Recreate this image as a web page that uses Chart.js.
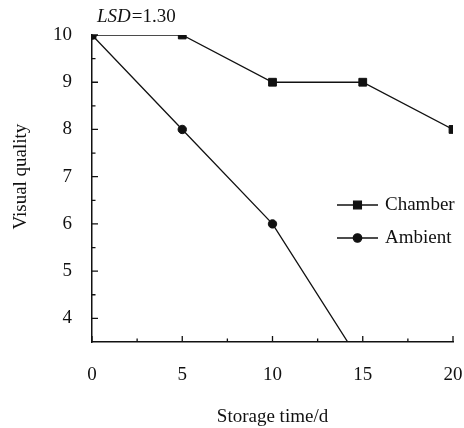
<!DOCTYPE html>
<html>
<head>
<meta charset="utf-8">
<script src="https://cdn.jsdelivr.net/npm/chart.js@4"></script>
<style>
  html, body { margin: 0; padding: 0; background: #fff; }
  #box { width: 464px; height: 428px; }
</style>
</head>
<body>
<div id="box"><canvas id="quality"></canvas></div>
<script>
// storage days and visual quality scores
const days = [0, 5, 10, 15, 20];
const chamber = [10, 10, 9, 9, 8];
const ambient = [10, 8, 6, 3, null];
const xMajor = [0, 5, 10, 15, 20];
const xMinor = [2.5, 7.5, 12.5, 17.5];
const yMajor = [4, 5, 6, 7, 8, 9, 10];
const yMinor = [4.5, 5.5, 6.5, 7.5, 8.5, 9.5];
const lsdLabel = ['LSD', '=1.30'];

const serif = '"Liberation Serif", "DejaVu Serif", serif';
const ink = '#111';
const fontSize = 19;

function toPoints(values) {
  return days.map((d, i) => ({ x: d, y: values[i] }));
}

// ticks that point into the plot, like the original figure
const innerTicks = {
  id: 'innerTicks',
  afterDraw(chart) {
    const ctx = chart.ctx;
    const xs = chart.scales.x, ys = chart.scales.y;
    const a = chart.chartArea;
    ctx.save();
    ctx.strokeStyle = ink;
    ctx.lineWidth = 1.3;
    ctx.beginPath();
    xMajor.forEach(v => { const p = xs.getPixelForValue(v); ctx.moveTo(p, a.bottom); ctx.lineTo(p, a.bottom - 6); });
    xMinor.forEach(v => { const p = xs.getPixelForValue(v); ctx.moveTo(p, a.bottom); ctx.lineTo(p, a.bottom - 3.5); });
    yMajor.forEach(v => { const p = ys.getPixelForValue(v); ctx.moveTo(a.left, p); ctx.lineTo(a.left + 6, p); });
    yMinor.forEach(v => { const p = ys.getPixelForValue(v); ctx.moveTo(a.left, p); ctx.lineTo(a.left + 3.5, p); });
    ctx.stroke();

    // LSD note above the plot
    ctx.fillStyle = ink;
    ctx.textBaseline = 'middle';
    ctx.textAlign = 'left';
    let tx = a.left + 5;
    const ty = a.top - 18;
    ctx.font = 'italic ' + fontSize + 'px ' + serif;
    ctx.fillText(lsdLabel[0], tx, ty);
    tx += ctx.measureText(lsdLabel[0]).width + 1;
    ctx.font = fontSize + 'px ' + serif;
    ctx.fillText(lsdLabel[1], tx, ty);

    // legend: line with marker, then the name
    chart.data.datasets.forEach((ds, i) => {
      const lx = a.left + 245, ly = a.top + 170 + i * 33;
      ctx.beginPath();
      ctx.lineWidth = ds.borderWidth;
      ctx.moveTo(lx, ly);
      ctx.lineTo(lx + 41, ly);
      ctx.stroke();
      Chart.helpers.drawPoint(ctx, {
        pointStyle: ds.pointStyle, radius: ds.pointRadius, rotation: 0, borderWidth: 1
      }, lx + 20.5, ly);
      ctx.fillStyle = ink;
      ctx.font = fontSize + 'px ' + serif;
      ctx.fillText(ds.label, lx + 48, ly);
    });
    ctx.restore();
  }
};

new Chart('quality', {
  type: 'line',
  data: {
    datasets: [
      {
        label: 'Chamber',
        data: toPoints(chamber),
        borderColor: ink,
        backgroundColor: ink,
        borderWidth: 1.3,
        pointStyle: 'rect',
        pointRadius: 5.5,
        pointBorderWidth: 1
      },
      {
        label: 'Ambient',
        data: toPoints(ambient),
        borderColor: ink,
        backgroundColor: ink,
        borderWidth: 1.3,
        pointStyle: 'circle',
        pointRadius: 4.2,
        pointBorderWidth: 1
      }
    ]
  },
  options: {
    responsive: true,
    maintainAspectRatio: false,
    animation: false,
    layout: { padding: { top: 35, right: 11, left: 0, bottom: 0 } },
    plugins: { legend: { display: false }, tooltip: { enabled: false } },
    scales: {
      x: {
        type: 'linear',
        min: 0,
        max: 20,
        grid: { display: false },
        border: { display: true, color: ink, width: 1.5 },
        ticks: { stepSize: 5, padding: 14, maxRotation: 0, color: ink, font: { family: serif, size: fontSize } },
        title: { display: true, text: 'Storage time/d', color: ink, padding: { top: 0, bottom: 0 }, font: { family: serif, size: fontSize } },
        afterFit(s) { s.height = 86; s.paddingLeft = 0; s.paddingRight = 0; }
      },
      y: {
        min: 3.5,
        max: 10,
        grid: { display: false },
        border: { display: true, color: ink, width: 1.5 },
        ticks: { stepSize: 1, padding: 12, color: ink, font: { family: serif, size: fontSize } },
        afterBuildTicks(s) { s.ticks = s.ticks.filter(t => yMajor.includes(t.value)); },
        // leading em space nudges the label upward, as in the original
        title: { display: true, text: '\u2003 Visual quality', color: ink, padding: 10, font: { family: serif, size: fontSize } },
        afterFit(s) { s.width = 92; s.paddingTop = 0; s.paddingBottom = 0; }
      }
    }
  },
  plugins: [innerTicks]
});
</script>
</body>
</html>
